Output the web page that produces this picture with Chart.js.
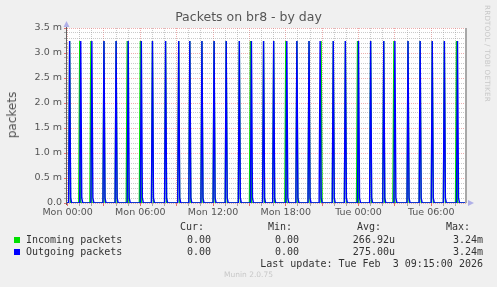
<!DOCTYPE html>
<html><head><meta charset="utf-8">
<script src="https://cdn.jsdelivr.net/npm/chart.js@4"></script>
<style>
html,body{margin:0;padding:0;background:#F0F0F0;}
#wrap{position:relative;width:497px;height:287px;overflow:hidden;background:#F0F0F0;}
canvas{position:absolute;left:0;top:0;}
.t{position:absolute;font-family:"DejaVu Sans Mono",monospace;font-size:10px;color:#333;white-space:pre;line-height:12px;}
.sq{position:absolute;width:6px;height:6px;}
#rrd{position:absolute;left:483px;top:5px;writing-mode:vertical-rl;font-family:"DejaVu Sans",sans-serif;font-size:7.2px;color:#c8c8c8;letter-spacing:0.2px;}
#munin{position:absolute;left:0;width:497px;top:270px;text-align:center;font-family:"DejaVu Sans",sans-serif;font-size:7.5px;color:#c8c8c8;}
#ylab{position:absolute;left:12px;top:115px;transform:translate(-50%,-50%) rotate(-90deg);font-family:"DejaVu Sans",sans-serif;font-size:12px;color:#555;white-space:nowrap;}
</style></head>
<body><div id="wrap"><canvas id="c" width="497" height="287"></canvas>
<div id="ylab">packets</div>
<div id="rrd">RRDTOOL / TOBI OETIKER</div>
<div id="munin">Munin 2.0.75</div>
</div>
<script>
// ---- data (times in minutes after Mon 00:00, values in packets/s) ----
const windowStart = -3;
const windowEnd = 1977;
const outgoingTimes = [10,65,120,180,240,300,365,420,485,550,605,665,725,785,850,910,970,1020,1085,1135,1195,1250,1315,1375,1440,1500,1565,1620,1685,1745,1805,1865,1930];
const outgoingPeaks = [3.24e-3,3.24e-3,3.24e-3,3.24e-3,3.24e-3,3.24e-3,3.24e-3,3.24e-3,3.24e-3,3.24e-3,3.24e-3,3.24e-3,3.24e-3,3.24e-3,3.24e-3,3.24e-3,3.24e-3,3.24e-3,3.24e-3,3.24e-3,3.24e-3,3.24e-3,3.24e-3,3.24e-3,3.24e-3,3.24e-3,3.24e-3,3.24e-3,3.24e-3,3.24e-3,3.24e-3,3.24e-3,3.24e-3];
const outgoingTail = 0.1e-3;
const incomingTimes = [10,60,115,180,240,295,360,420,485,550,605,665,725,785,850,905,970,1020,1080,1135,1195,1255,1315,1375,1435,1500,1565,1615,1685,1745,1805,1865,1925];
const incomingPeaks = outgoingPeaks.slice();
const xTickLabels = {0:'Mon 00:00',360:'Mon 06:00',720:'Mon 12:00',1080:'Mon 18:00',1440:'Tue 00:00',1800:'Tue 06:00'};
const yTickLabels = {0:'0.0',5:'0.5 m',10:'1.0 m',15:'1.5 m',20:'2.0 m',25:'2.5 m',30:'3.0 m',35:'3.5 m'};
const legendRows = [
  {name:'Incoming packets', color:'#00E000', cur:'0.00', min:'0.00', avg:'266.92u', max:'3.24m'},
  {name:'Outgoing packets', color:'#0000FF', cur:'0.00', min:'0.00', avg:'275.00u', max:'3.24m'}
];
const lastUpdate = 'Last update: Tue Feb  3 09:15:00 2026';

function spikes(times, peaks, tail){
  const pts=[{x:windowStart,y:0}];
  times.forEach((t,i)=>{
    pts.push({x:t-5,y:0});
    pts.push({x:t,y:peaks[i]});
    if(tail){pts.push({x:t+5,y:tail});pts.push({x:t+10,y:0});}
    else pts.push({x:t+5,y:0});
  });
  pts.push({x:windowEnd,y:0});
  return pts;
}

// ---- legend (HTML text) ----
const wrap=document.getElementById('wrap');
function txt(s,right,cy){const d=document.createElement('div');d.className='t';d.textContent=s;d.style.right=(497-right)+'px';d.style.top=(cy-6)+'px';wrap.appendChild(d);}
function txtL(s,left,cy){const d=document.createElement('div');d.className='t';d.textContent=s;d.style.left=left+'px';d.style.top=(cy-6)+'px';wrap.appendChild(d);}
txt('Cur:',204,227);txt('Min:',292,227);txt('Avg:',381,227);txt('Max:',470,227);
legendRows.forEach((r,i)=>{
  const cy=240+i*12;
  const s=document.createElement('div');s.className='sq';s.style.left='14px';s.style.top=(cy-3)+'px';s.style.background=r.color;wrap.appendChild(s);
  txtL(r.name,26,cy);txt(r.cur,211,cy);txt(r.min,299,cy);txt(r.avg,395,cy);txt(r.max,483,cy);
});
txt(lastUpdate,483,264);

const frame={
  id:'frame',
  beforeDraw(chart){
    const {ctx,chartArea:a}=chart;
    ctx.save();ctx.fillStyle='#FFFFFF';ctx.fillRect(a.left,a.top,a.right-a.left,a.bottom-a.top);ctx.restore();
  },
  afterDatasetsDraw(chart){
    const {ctx,chartArea:a}=chart;
    ctx.save();
    ctx.fillStyle='#a8a8a8';ctx.fillRect(a.right-2,a.top,2,a.bottom-a.top);
    ctx.strokeStyle='#606060';ctx.lineWidth=1;
    ctx.beginPath();ctx.moveTo(a.left-0.5,a.bottom+2);ctx.lineTo(a.left-0.5,a.top-3);ctx.stroke();
    ctx.fillStyle='#b0b0e8';
    ctx.beginPath();ctx.moveTo(a.left-3.5,a.top-1);ctx.lineTo(a.left+2.5,a.top-1);ctx.lineTo(a.left-0.5,a.top-7);ctx.closePath();ctx.fill();
    ctx.beginPath();ctx.moveTo(a.right+1,a.bottom-3);ctx.lineTo(a.right+1,a.bottom+3);ctx.lineTo(a.right+7,a.bottom);ctx.closePath();ctx.fill();
    ctx.restore();
  }
};

const gridMinor='rgba(150,150,150,0.5)';
const gridMajor='rgba(225,120,120,0.6)';
new Chart(document.getElementById('c'),{
  type:'line',
  data:{datasets:[
    {label:'Incoming packets',order:2,data:spikes(incomingTimes,incomingPeaks,0),borderColor:'#00E000',borderWidth:1.3,pointRadius:0,tension:0,fill:false},
    {label:'Outgoing packets',order:1,data:spikes(outgoingTimes,outgoingPeaks,outgoingTail),borderColor:'#0000FF',borderWidth:1.4,pointRadius:0,tension:0,fill:false}
  ]},
  options:{
    responsive:false,animation:false,devicePixelRatio:1,
    layout:{padding:{left:0,right:0,top:0,bottom:0}},
    plugins:{
      legend:{display:false},tooltip:{enabled:false},
      title:{display:true,text:'Packets on br8 - by day',color:'#555',font:{family:'DejaVu Sans',size:12.5,weight:'normal'},padding:{top:10,bottom:3}}
    },
    scales:{
      x:{type:'linear',min:windowStart,max:windowEnd,
        afterFit(s){s.height=84;},
        afterBuildTicks(s){const t=[];for(let v=0;v<=windowEnd;v+=60)t.push({value:v});s.ticks=t;},
        ticks:{autoSkip:false,maxRotation:0,padding:1,color:'#555',font:{family:'DejaVu Sans',size:9.5},callback:v=>xTickLabels[v]||''},
        grid:{color:c=>(c.tick&&c.tick.value%180===0)?gridMajor:gridMinor,tickColor:c=>(c.tick&&c.tick.value%180===0)?'rgba(220,80,80,0.8)':'rgba(120,120,120,0.6)',tickLength:3},
        border:{display:false,dash:[1,1]}
      },
      y:{min:0,max:3.5e-3,
        afterFit(s){s.width=67;},
        afterBuildTicks(s){const t=[];for(let i=0;i<=35;i++)t.push({value:i*1e-4});s.ticks=t;},
        ticks:{autoSkip:false,padding:2,color:'#555',font:{family:'DejaVu Sans',size:9.5},callback:v=>{const k=Math.round(v*1e4);return yTickLabels[k]||'';}},
        grid:{color:c=>(c.tick&&Math.round(c.tick.value*1e4)%5===0)?gridMajor:gridMinor,tickColor:c=>(c.tick&&Math.round(c.tick.value*1e4)%5===0)?'rgba(220,80,80,0.8)':'rgba(120,120,120,0.6)',tickLength:3},
        border:{display:false,dash:[1,1]}
      },
      yRight:{position:'right',display:true,afterFit(s){s.width=30;},ticks:{display:false},grid:{display:false,drawOnChartArea:false},border:{display:false}}
    }
  },
  plugins:[frame]
});
</script></body></html>
